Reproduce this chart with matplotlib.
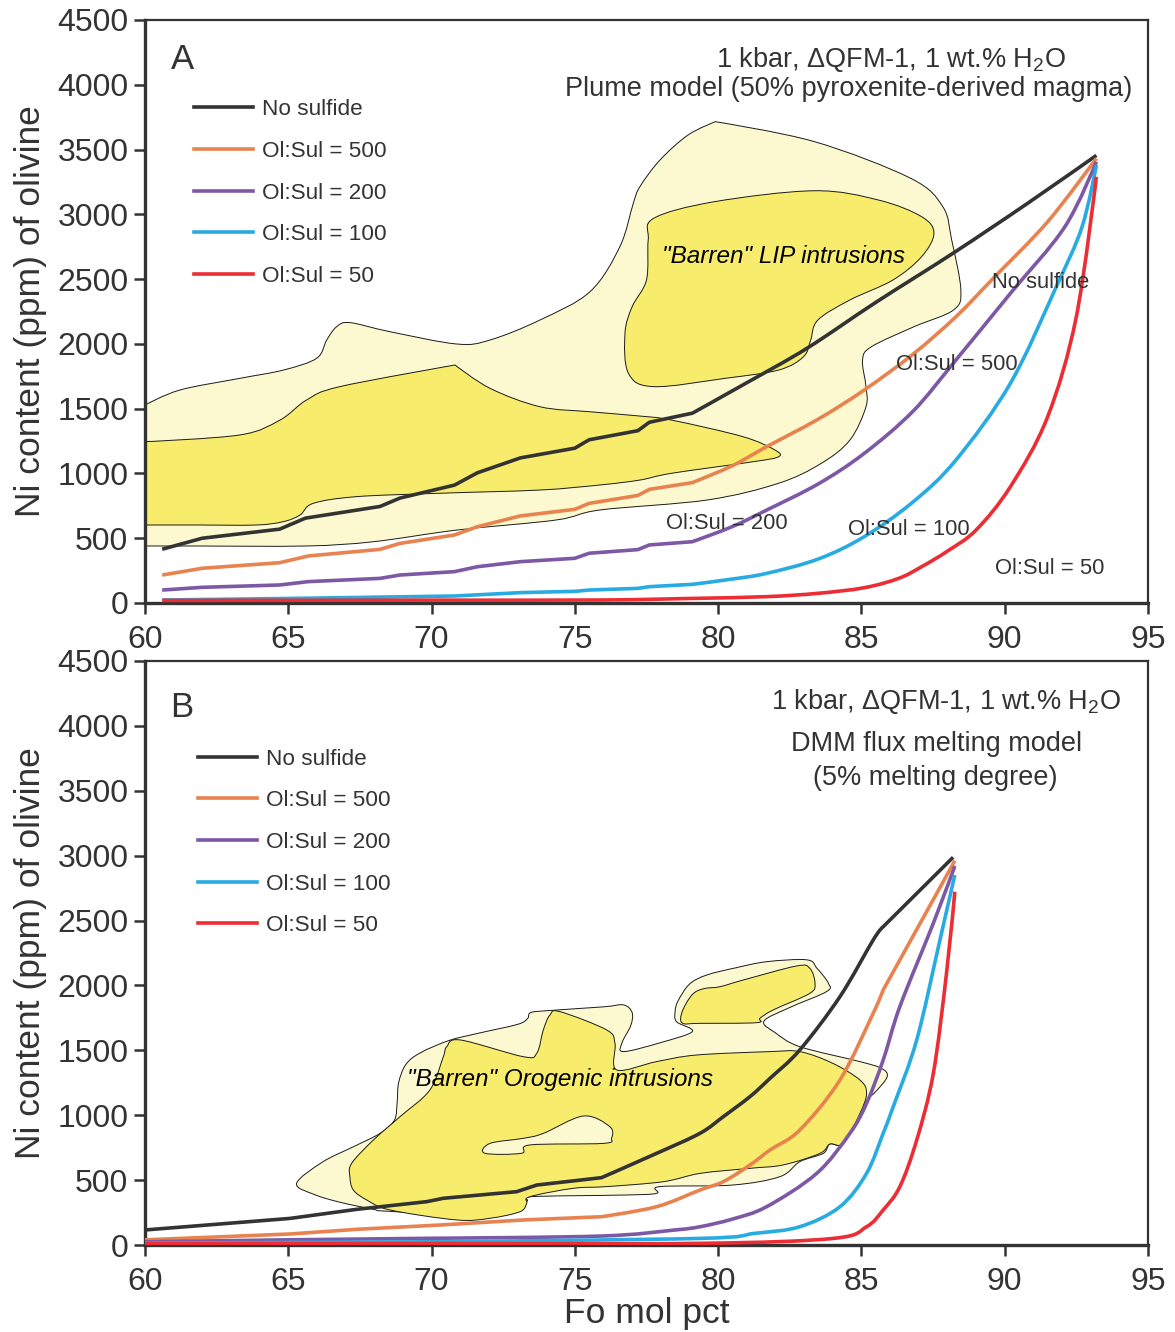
import numpy as np
import matplotlib
matplotlib.use("Agg")
import matplotlib.pyplot as plt
from matplotlib.path import Path
from matplotlib.patches import PathPatch
from matplotlib.lines import Line2D

plt.rcParams['font.family'] = ['Liberation Sans', 'DejaVu Sans']
plt.rcParams['mathtext.fontset'] = 'custom'
plt.rcParams['mathtext.rm'] = 'Liberation Sans'
plt.rcParams['mathtext.it'] = 'Liberation Sans:italic'

TXT = '#333333'
C_NOSUL = '#333333'
C_500 = '#E8834F'
C_200 = '#7D58A5'
C_100 = '#28ABE2'
C_50 = '#EC2D33'
LIGHT = '#FCF8CF'
DARK = '#F8EC6C'

series_labels = ['No sulfide', 'Ol:Sul = 500', 'Ol:Sul = 200', 'Ol:Sul = 100', 'Ol:Sul = 50']
xticks = [60, 65, 70, 75, 80, 85, 90, 95]
yticks = [0, 500, 1000, 1500, 2000, 2500, 3000, 3500, 4000, 4500]

# ---------------- Panel A: plume model curves (Fo mol%, Ni ppm) ----------------
a_nosul_fo = [60.6, 62.0, 64.7, 65.6, 68.2, 68.9, 70.8, 71.6, 73.1, 75.0, 75.5, 77.2, 77.6, 79.1, 81.0, 83.1, 85.5, 88.2, 90.8, 93.2]
a_nosul_ni = [415, 500, 570, 655, 745, 810, 910, 1005, 1120, 1195, 1260, 1330, 1395, 1465, 1700, 1966, 2320, 2700, 3085, 3455]

a_500_fo = [60.6, 62.0, 64.7, 65.7, 68.2, 68.9, 70.8, 71.6, 73.1, 75.0, 75.5, 77.2, 77.6, 79.1, 80.5, 81.7, 83.5, 85.1, 86.8, 88.3, 89.6, 91.5, 93.2]
a_500_ni = [216, 268, 311, 363, 414, 460, 525, 589, 672, 723, 769, 830, 877, 929, 1060, 1207, 1420, 1644, 1920, 2210, 2506, 2943, 3432]

a_200_fo = [60.6, 62.0, 64.7, 65.7, 68.2, 68.9, 70.8, 71.6, 73.1, 75.0, 75.5, 77.2, 77.6, 79.1, 80.5, 81.7, 83.5, 85.1, 86.8, 88.3, 90.2, 92.1, 93.2]
a_200_ni = [100, 121, 139, 165, 190, 216, 242, 280, 319, 345, 384, 412, 448, 473, 590, 718, 920, 1155, 1480, 1876, 2390, 2904, 3406]

a_100_fo = [60.6, 65.0, 70.8, 73.1, 75.0, 75.5, 77.2, 77.6, 79.1, 80.5, 81.7, 83.5, 85.1, 86.8, 88.3, 90.2, 91.8, 92.7, 93.2]
a_100_ni = [23, 35, 54, 80, 90, 100, 113, 126, 144, 185, 229, 340, 512, 780, 1104, 1696, 2441, 2904, 3380]

a_50_fo = [60.6, 65.0, 70.0, 75.9, 79.0, 81.7, 83.5, 85.1, 86.3, 87.1, 88.0, 89.0, 90.2, 91.5, 92.5, 93.2]
a_50_ni = [20, 21, 22, 23, 35, 49, 75, 118, 190, 280, 400, 563, 898, 1438, 2210, 3290]

# "Barren" LIP intrusion fields
a_outer_fo = [60.0, 61.22, 63.31, 64.83, 65.99, 66.34, 66.69, 67.15, 68.55, 70.88, 72.04, 73.78, 75.53, 76.57, 77.04, 77.27, 77.97, 78.95, 79.9, 83.36, 86.72, 87.84, 88.15, 88.47, 88.21, 86.84, 85.35, 85.04, 85.16, 85.16, 84.6, 83.6, 82.11, 79.62, 75.88, 74.36, 70.88, 67.97, 65.64, 62.0, 60.0]
a_outer_ni = [1528, 1644, 1734, 1798, 1889, 2030, 2133, 2164, 2094, 1999, 2030, 2184, 2403, 2750, 3085, 3213, 3419, 3612, 3715, 3561, 3278, 3059, 2802, 2416, 2261, 2133, 1978, 1876, 1670, 1515, 1258, 1078, 924, 795, 718, 641, 563, 473, 440, 440, 440]

a_low_fo = [60.0, 63.31, 64.71, 65.64, 66.8, 70.82, 72.04, 73.78, 75.53, 77.27, 78.37, 80.86, 81.98, 82.11, 81.24, 78.37, 77.27, 75.88, 73.78, 70.29, 67.39, 65.87, 65.41, 64.83, 63.9, 62.0, 60.0]
a_low_ni = [1245, 1297, 1412, 1567, 1670, 1837, 1657, 1515, 1476, 1443, 1412, 1284, 1181, 1129, 1091, 1001, 949, 911, 872, 847, 821, 769, 679, 628, 602, 602, 602]

a_blob_fo = [77.75, 79.86, 83.36, 85.6, 87.1, 87.53, 87.1, 86.1, 84.6, 83.48, 83.23, 82.98, 82.11, 80.24, 77.75, 76.87, 76.75, 77.0, 77.5, 77.56]
a_blob_ni = [2969, 3097, 3182, 3110, 2982, 2853, 2673, 2493, 2339, 2184, 2030, 1901, 1798, 1734, 1670, 1773, 2082, 2287, 2493, 2802]

# ---------------- Panel B: DMM flux melting curves ----------------
b_nosul_fo = [60.0, 62.5, 65.06, 67.39, 69.83, 70.41, 72.97, 73.67, 75.93, 77.85, 79.37, 80.18, 81.11, 81.81, 82.85, 84.25, 85.41, 85.74, 88.2]
b_nosul_ni = [116, 160, 205, 275, 334, 360, 411, 462, 519, 706, 861, 989, 1143, 1284, 1503, 1913, 2350, 2448, 2987]

b_500_fo = [60.0, 65.06, 67.39, 70.29, 73.2, 75.93, 77.85, 79.37, 80.18, 81.11, 81.81, 82.85, 84.25, 85.41, 85.76, 88.26]
b_500_ni = [40, 85, 121, 154, 193, 218, 295, 424, 488, 616, 732, 886, 1271, 1785, 1965, 2961]

b_200_fo = [60.0, 65.0, 70.0, 75.9, 78.5, 79.37, 80.5, 81.69, 83.44, 84.6, 85.18, 85.76, 86.34, 87.51, 88.26]
b_200_ni = [25, 40, 52, 69, 116, 141, 200, 295, 552, 861, 1092, 1425, 1836, 2479, 2920]

b_100_fo = [60.0, 70.0, 79.37, 81.28, 82.85, 84.25, 85.18, 85.76, 86.11, 86.93, 87.74, 88.26]
b_100_ni = [15, 25, 51, 90, 141, 295, 552, 861, 1066, 1580, 2350, 2851]

b_50_fo = [60.0, 70.0, 79.37, 84.02, 85.18, 85.76, 86.34, 86.93, 87.51, 87.97, 88.26]
b_50_ni = [10, 12, 13, 51, 141, 270, 449, 809, 1323, 2094, 2722]

# "Barren" orogenic intrusion fields
b_outer_fo = [65.29, 66.2, 67.3, 68.2, 68.7, 68.8, 68.85, 69.1, 69.6, 70.6, 71.6, 73.0, 73.35, 73.45, 74.0, 76.0, 76.7, 77.0, 76.95, 76.65, 76.7, 78.0, 79.1, 78.55, 78.5, 78.6, 79.0, 79.6, 80.6, 81.7, 83.1, 83.45, 83.85, 83.78, 82.5, 81.6, 82.0, 82.85, 84.95, 85.7, 85.9, 85.5, 85.2, 84.95, 84.37, 83.9, 83.67, 82.85, 82.16, 80.5, 77.97, 77.85, 76.69, 73.43, 73.3, 72.0, 68.5, 67.97, 66.8, 65.9]
b_outer_ni = [475, 640, 760, 860, 960, 1100, 1250, 1390, 1480, 1575, 1630, 1700, 1745, 1790, 1805, 1835, 1850, 1790, 1690, 1560, 1490, 1560, 1645, 1720, 1800, 1880, 2010, 2080, 2135, 2183, 2197, 2132, 2016, 1952, 1830, 1725, 1635, 1528, 1413, 1361, 1297, 1182, 1120, 1015, 783, 778, 706, 642, 527, 462, 450, 398, 385, 372, 334, 230, 260, 275, 330, 390]

b_dark_fo = [67.15, 67.21, 67.97, 68.9, 69.94, 70.41, 70.53, 71.0, 73.2, 73.67, 73.9, 74.13, 74.48, 76.11, 76.4, 76.46, 77.85, 79.25, 81.81, 82.85, 84.0, 84.95, 85.18, 84.95, 84.37, 83.9, 83.55, 82.27, 81.11, 79.37, 78.09, 76.11, 74.95, 73.43, 73.32, 73.09, 72.04, 70.88, 68.55, 67.74, 67.27]
b_dark_ni = [527, 629, 809, 989, 1194, 1451, 1528, 1580, 1451, 1477, 1657, 1772, 1798, 1657, 1554, 1349, 1413, 1464, 1490, 1490, 1400, 1271, 1169, 1015, 783, 778, 706, 617, 591, 552, 488, 450, 437, 372, 321, 257, 206, 193, 270, 347, 424]

b_hole_fo = [71.86, 72.04, 73.2, 73.9, 75.3, 76.22, 76.28, 75.99, 73.43, 73.14]
b_hole_ni = [707, 783, 822, 860, 994, 912, 822, 783, 771, 707]

b_blob_fo = [78.75, 78.75, 79.1, 79.5, 80.06, 80.88, 82.74, 83.2, 83.38, 83.2, 81.92, 81.46, 81.34, 79.37]
b_blob_ni = [1710, 1800, 1930, 1975, 1990, 2042, 2150, 2132, 2016, 1939, 1811, 1747, 1713, 1708]


def bezier_path(xs, ys, closed=False, sharp=()):
    """Catmull-Rom outline through the given vertices as a cubic Bezier path.
    Vertices listed in `sharp` get zero tangents (segments between two sharp
    vertices are straight)."""
    p = np.column_stack([xs, ys]).astype(float)
    n = len(p)
    tang = np.zeros_like(p)
    for i in range(n):
        if closed:
            tang[i] = (p[(i + 1) % n] - p[(i - 1) % n]) / 6.0
        elif 0 < i < n - 1:
            tang[i] = (p[i + 1] - p[i - 1]) / 6.0
    for c in sharp:
        tang[c] = 0.0
    verts = [p[0]]
    codes = [Path.MOVETO]
    nseg = n if closed else n - 1
    for i in range(nseg):
        j = (i + 1) % n
        verts += [p[i] + tang[i], p[j] - tang[j], p[j]]
        codes += [Path.CURVE4] * 3
    if closed:
        verts.append(p[0])
        codes.append(Path.CLOSEPOLY)
    return Path(np.array(verts), codes)


def add_field(ax, xs, ys, color, sharp=(), z=1):
    ax.add_patch(PathPatch(bezier_path(xs, ys, closed=True, sharp=sharp), facecolor=color,
                           edgecolor='#1a1a1a', linewidth=0.7, zorder=z))


def add_curve(ax, xs, ys, color, sharp=()):
    ax.add_patch(PathPatch(bezier_path(xs, ys, sharp=sharp), fill=False, edgecolor=color,
                           linewidth=2.6, joinstyle='round', capstyle='butt', zorder=3))


def style_axes(ax):
    ax.set_xlim(60, 95)
    ax.set_ylim(0, 4500)
    ax.set_xticks(xticks)
    ax.set_yticks(yticks)
    ax.tick_params(direction='out', length=8, width=1.8, colors=TXT,
                   labelsize=23, labelcolor=TXT)
    ax.tick_params(axis='x', pad=8)
    ax.tick_params(axis='y', pad=4)
    for side in ['left', 'bottom']:
        ax.spines[side].set_linewidth(2.4)
        ax.spines[side].set_color(TXT)
    for side in ['top', 'right']:
        ax.spines[side].set_linewidth(1.6)
        ax.spines[side].set_color(TXT)
    ax.set_ylabel('Ni content (ppm) of olivine', fontsize=25.5, color=TXT, labelpad=7)


def legend(ax, anchor):
    colors = [C_NOSUL, C_500, C_200, C_100, C_50]
    handles = [Line2D([], [], color=c, lw=2.6, label=l) for c, l in zip(colors, series_labels)]
    ax.legend(handles=handles, loc='upper left', bbox_to_anchor=anchor, frameon=False,
              fontsize=16.2, handlelength=2.6, handletextpad=0.4, labelspacing=0.92,
              borderpad=0, borderaxespad=0, labelcolor=TXT)


fig = plt.figure(figsize=(11.75, 13.32), dpi=100)
axA = fig.add_axes([0.1234, 0.5473, 0.8536, 0.4377])
axB = fig.add_axes([0.1234, 0.0653, 0.8536, 0.4385])

# Panel A
add_field(axA, a_outer_fo, a_outer_ni, LIGHT, sharp=(0, 18, 39, 40), z=1)
add_field(axA, a_low_fo, a_low_ni, DARK, sharp=(0, 5, 25, 26), z=1.5)
add_field(axA, a_blob_fo, a_blob_ni, DARK, z=1.5)
add_curve(axA, a_nosul_fo, a_nosul_ni, C_NOSUL, sharp=range(0, 14))
add_curve(axA, a_500_fo, a_500_ni, C_500, sharp=range(0, 14))
add_curve(axA, a_200_fo, a_200_ni, C_200, sharp=range(0, 14))
add_curve(axA, a_100_fo, a_100_ni, C_100, sharp=range(0, 9))
add_curve(axA, a_50_fo, a_50_ni, C_50)
style_axes(axA)
legend(axA, (0.049, 0.864))
axA.text(0.037, 0.932, 'A', transform=axA.transAxes, fontsize=25, color=TXT, ha='center', va='center')
axA.text(0.918, 0.933, '1 kbar, ΔQFM-1, 1 wt.% H$_2$O', transform=axA.transAxes,
         fontsize=19.5, color=TXT, ha='right', va='center')
axA.text(0.702, 0.882, 'Plume model (50% pyroxenite-derived magma)', transform=axA.transAxes,
         fontsize=19.5, color=TXT, ha='center', va='center')
axA.text(82.27, 2678, '"Barren" LIP intrusions', fontsize=17.5, style='italic', color='black',
         ha='center', va='center', zorder=4)
axA.text(91.26, 2470, 'No sulfide', fontsize=15.8, color=TXT, ha='center', va='center', zorder=4)
axA.text(88.33, 1840, 'Ol:Sul = 500', fontsize=15.8, color=TXT, ha='center', va='center', zorder=4)
axA.text(80.31, 610, 'Ol:Sul = 200', fontsize=15.8, color=TXT, ha='center', va='center', zorder=4)
axA.text(86.66, 571, 'Ol:Sul = 100', fontsize=15.8, color=TXT, ha='center', va='center', zorder=4)
axA.text(91.58, 270, 'Ol:Sul = 50', fontsize=15.8, color=TXT, ha='center', va='center', zorder=4)

# Panel B
add_field(axB, b_outer_fo, b_outer_ni, LIGHT, z=1)
add_field(axB, b_dark_fo, b_dark_ni, DARK, z=1.5)
add_field(axB, b_hole_fo, b_hole_ni, LIGHT, z=1.6)
add_field(axB, b_blob_fo, b_blob_ni, DARK, z=1.5)
add_curve(axB, b_nosul_fo, b_nosul_ni, C_NOSUL, sharp=list(range(0, 9)) + [17, 18])
add_curve(axB, b_500_fo, b_500_ni, C_500, sharp=list(range(0, 6)) + [14])
add_curve(axB, b_200_fo, b_200_ni, C_200, sharp=range(0, 3))
add_curve(axB, b_100_fo, b_100_ni, C_100, sharp=range(0, 2))
add_curve(axB, b_50_fo, b_50_ni, C_50, sharp=range(0, 2))
style_axes(axB)
axB.set_xlabel('Fo mol pct', fontsize=25.5, color=TXT, labelpad=0)
legend(axB, (0.053, 0.850))
axB.text(0.037, 0.92, 'B', transform=axB.transAxes, fontsize=25, color=TXT, ha='center', va='center')
axB.text(0.973, 0.93, '1 kbar, ΔQFM-1, 1 wt.% H$_2$O', transform=axB.transAxes,
         fontsize=19.5, color=TXT, ha='right', va='center')
axB.text(0.789, 0.858, 'DMM flux melting model', transform=axB.transAxes,
         fontsize=19.5, color=TXT, ha='center', va='center')
axB.text(0.788, 0.8, '(5% melting degree)', transform=axB.transAxes,
         fontsize=19.5, color=TXT, ha='center', va='center')
axB.text(74.48, 1279, '"Barren" Orogenic intrusions', fontsize=17.5, style='italic', color='black',
         ha='center', va='center', zorder=4)

fig.savefig('out.png', dpi=100)
